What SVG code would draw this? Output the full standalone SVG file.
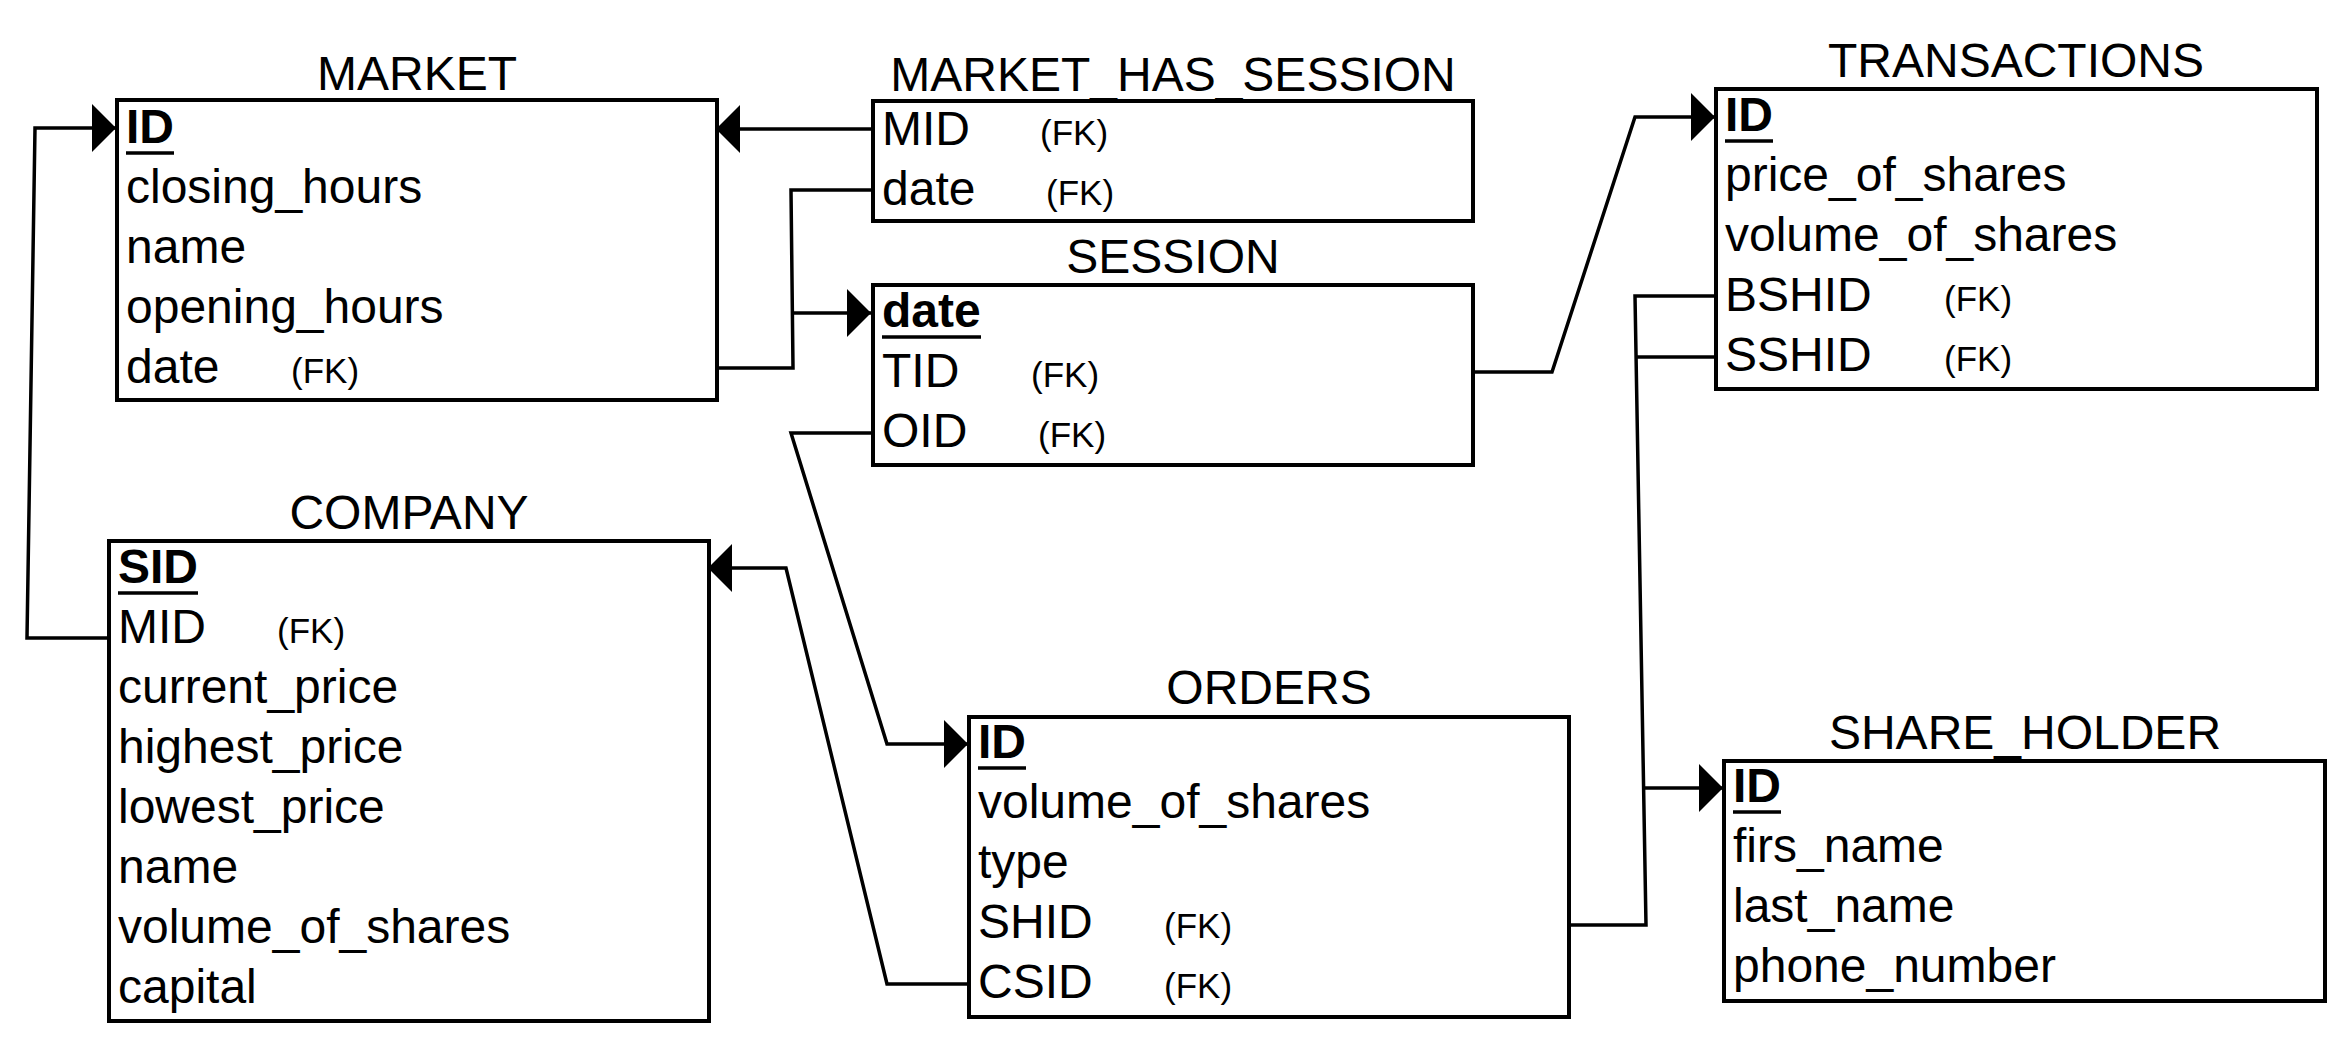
<svg xmlns="http://www.w3.org/2000/svg" width="2352" height="1048" viewBox="0 0 2352 1048">
<defs>
<style>
.box{fill:none;stroke:#000;stroke-width:4}
.ttl{font-family:"Liberation Sans",Arial,sans-serif;font-size:48px;fill:#000;text-anchor:middle}
.at{font-family:"Liberation Sans",Arial,sans-serif;font-size:48px;fill:#000}
.pk{font-weight:bold}
.fk{font-family:"Liberation Sans",Arial,sans-serif;font-size:35px;fill:#000}
.ul{stroke:#000;stroke-width:3.5}
.cn{fill:none;stroke:#000;stroke-width:3.5}
</style>
<marker id="ah" markerUnits="userSpaceOnUse" markerWidth="24" markerHeight="48" refX="24" refY="24" orient="auto" viewBox="0 0 24 48"><path d="M0,0 L24,24 L0,48 Z" fill="#000"/></marker>
</defs>
<rect width="2352" height="1048" fill="#fff"/>

<g id="connectors">
<path class="cn" d="M109,638 L27,638 L35,128 L116,128" marker-end="url(#ah)"/>
<path class="cn" d="M873,129 L716,129" marker-end="url(#ah)"/>
<path class="cn" d="M717,368 L793,368 L791,190 L873,190"/>
<path class="cn" d="M792,313 L871,313" marker-end="url(#ah)"/>
<path class="cn" d="M1473,372 L1552,372 L1635,117 L1715,117" marker-end="url(#ah)"/>
<path class="cn" d="M873,433 L791,433 L887,744 L968,744" marker-end="url(#ah)"/>
<path class="cn" d="M969,984 L887,984 L786,568 L708,568" marker-end="url(#ah)"/>
<path class="cn" d="M1716,296 L1635,296 L1646,925 L1569,925"/>
<path class="cn" d="M1716,357 L1636,357"/>
<path class="cn" d="M1645,788 L1723,788" marker-end="url(#ah)"/>
</g>

<g id="market">
<text class="ttl" x="417" y="90">MARKET</text>
<rect class="box" x="117" y="100" width="600" height="300"/>
<text class="at pk" x="126" y="143">ID</text>
<line class="ul" x1="126" y1="153" x2="174" y2="153"/>
<text class="at" x="126" y="203">closing_hours</text>
<text class="at" x="126" y="263">name</text>
<text class="at" x="126" y="323">opening_hours</text>
<text class="at" x="126" y="383">date</text>
<text class="fk" x="291" y="383">(FK)</text>
</g>

<g id="market_has_session">
<text class="ttl" x="1173" y="91">MARKET_HAS_SESSION</text>
<rect class="box" x="873" y="101" width="600" height="120"/>
<text class="at" x="882" y="145">MID</text>
<text class="fk" x="1040" y="145">(FK)</text>
<text class="at" x="882" y="205">date</text>
<text class="fk" x="1046" y="205">(FK)</text>
</g>

<g id="session">
<text class="ttl" x="1173" y="273">SESSION</text>
<rect class="box" x="873" y="285" width="600" height="180"/>
<text class="at pk" x="882" y="327">date</text>
<line class="ul" x1="882" y1="337" x2="981" y2="337"/>
<text class="at" x="882" y="387">TID</text>
<text class="fk" x="1031" y="387">(FK)</text>
<text class="at" x="882" y="447">OID</text>
<text class="fk" x="1038" y="447">(FK)</text>
</g>

<g id="transactions">
<text class="ttl" x="2016" y="77">TRANSACTIONS</text>
<rect class="box" x="1716" y="89" width="601" height="300"/>
<text class="at pk" x="1725" y="131">ID</text>
<line class="ul" x1="1725" y1="141" x2="1773" y2="141"/>
<text class="at" x="1725" y="191">price_of_shares</text>
<text class="at" x="1725" y="251">volume_of_shares</text>
<text class="at" x="1725" y="311">BSHID</text>
<text class="fk" x="1944" y="311">(FK)</text>
<text class="at" x="1725" y="371">SSHID</text>
<text class="fk" x="1944" y="371">(FK)</text>
</g>

<g id="company">
<text class="ttl" x="409" y="529">COMPANY</text>
<rect class="box" x="109" y="541" width="600" height="480"/>
<text class="at pk" x="118" y="583">SID</text>
<line class="ul" x1="118" y1="593" x2="198" y2="593"/>
<text class="at" x="118" y="643">MID</text>
<text class="fk" x="277" y="643">(FK)</text>
<text class="at" x="118" y="703">current_price</text>
<text class="at" x="118" y="763">highest_price</text>
<text class="at" x="118" y="823">lowest_price</text>
<text class="at" x="118" y="883">name</text>
<text class="at" x="118" y="943">volume_of_shares</text>
<text class="at" x="118" y="1003">capital</text>
</g>

<g id="orders">
<text class="ttl" x="1269" y="704">ORDERS</text>
<rect class="box" x="969" y="717" width="600" height="300"/>
<text class="at pk" x="978" y="758">ID</text>
<line class="ul" x1="978" y1="768" x2="1026" y2="768"/>
<text class="at" x="978" y="818">volume_of_shares</text>
<text class="at" x="978" y="878">type</text>
<text class="at" x="978" y="938">SHID</text>
<text class="fk" x="1164" y="938">(FK)</text>
<text class="at" x="978" y="998">CSID</text>
<text class="fk" x="1164" y="998">(FK)</text>
</g>

<g id="share_holder">
<text class="ttl" x="2025" y="749">SHARE_HOLDER</text>
<rect class="box" x="1724" y="761" width="601" height="240"/>
<text class="at pk" x="1733" y="802">ID</text>
<line class="ul" x1="1733" y1="812" x2="1781" y2="812"/>
<text class="at" x="1733" y="862">firs_name</text>
<text class="at" x="1733" y="922">last_name</text>
<text class="at" x="1733" y="982">phone_number</text>
</g>
</svg>
